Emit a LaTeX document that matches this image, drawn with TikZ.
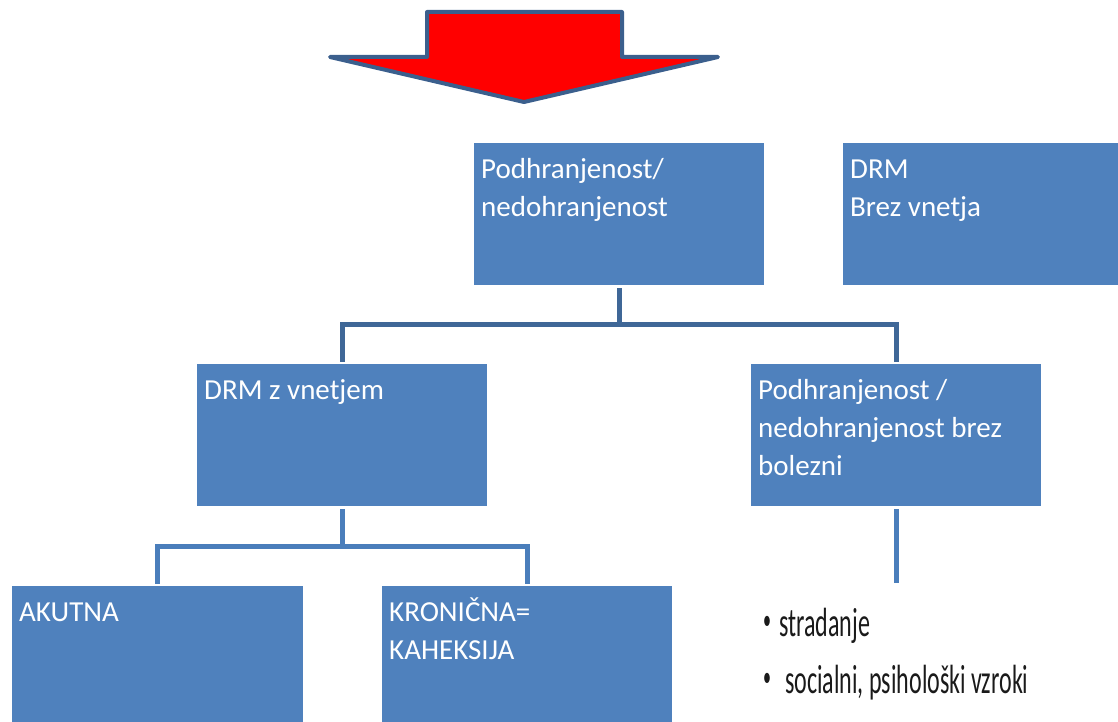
\documentclass[tikz,border=0pt]{standalone}
\usepackage{fontspec}
\setmainfont{Carlito}
\definecolor{boxblue}{HTML}{4F81BD}
\definecolor{linkdark}{HTML}{3F6797}
\definecolor{linkblue}{HTML}{4A7EBB}
\definecolor{arrowedge}{HTML}{3B5F8D}
\definecolor{bulletgray}{HTML}{1A1A1A}
\begin{document}
\begin{tikzpicture}[x=1pt,y=-1pt,
  boxnode/.style={fill=boxblue, draw=none, inner sep=0pt, outer sep=0pt, anchor=north west, minimum height=142pt},
  boxtext/.style={text=white, font=\fontsize{29}{38}\selectfont, align=left, inner sep=0pt, anchor=base west},
  toplink/.style={draw=linkdark, line width=5pt, shorten <=3pt, shorten >=2pt},
  lowlink/.style={draw=linkblue, line width=5pt, shorten <=3pt, shorten >=2pt},
  bullettext/.style={text=bulletgray, font=\fontsize{24}{30}\selectfont, inner sep=0pt, anchor=base west},
  bulletdot/.style={text=bulletgray, font=\fontsize{16}{20}\selectfont, inner sep=0pt, anchor=center}]
\useasboundingbox (0,0) rectangle (1118,722);
% red arrow
\draw[arrowedge, line width=4pt, fill=red, line join=round]
  (427,12) -- (622,12) -- (622,57) -- (718,57) -- (524,102) -- (330,57) -- (427,57) -- cycle;
% boxes
\node[boxnode, minimum width=290pt] (b1) at (474,143) {};
\node[boxnode, minimum width=275pt] (b2) at (843,143) {};
\node[boxnode, minimum width=290pt] (b3) at (197,364) {};
\node[boxnode, minimum width=290pt] (b4) at (751,364) {};
\node[boxnode, minimum width=291pt, minimum height=140pt] (b5) at (12,586) {};
\node[boxnode, minimum width=290pt, minimum height=140pt] (b6) at (382,586) {};
% box texts (base anchor = baseline of last line)
\node[boxtext] (t1) at ([xshift=7pt,yshift=-73pt]b1.north west) {Podhranjenost/\\nedohranjenost};
\node[boxtext] (t2) at ([xshift=7pt,yshift=-73pt]b2.north west) {DRM\\Brez vnetja};
\node[boxtext] (t3) at ([xshift=7pt,yshift=-35pt]b3.north west) {DRM z vnetjem};
\node[boxtext] (t4) at ([xshift=7pt,yshift=-111pt]b4.north west) {Podhranjenost /\\nedohranjenost brez\\bolezni};
\node[boxtext] (t5) at ([xshift=7pt,yshift=-35pt]b5.north west) {AKUTNA};
\node[boxtext] (t6) at ([xshift=7pt,yshift=-73pt]b6.north west) {KRONIČNA=\\KAHEKSIJA};
% connectors
\coordinate (j1) at (0,324);
\coordinate (j2) at (0,546);
\coordinate (e4) at (896,583);
\draw[toplink] (b1.south) -- (b1.south |- j1) -| (b3.north);
\draw[toplink] (b1.south |- j1) -| (b4.north);
\draw[lowlink] (b3.south) -- (b3.south |- j2) -| (b5.north);
\draw[lowlink] (b3.south |- j2) -| (b6.north);
\draw[lowlink, shorten >=0pt] (b4.south) -- (e4);
% bullet list
\node[bulletdot] (d1) at (767,623) {\scalebox{1}[1.8]{•}};
\node[bullettext] (l1) at (779,636) {\scalebox{1}[1.7]{stradanje}};
\node[bulletdot] (d2) at (767,680) {\scalebox{1}[1.8]{•}};
\node[bullettext] (l2) at (785,693) {\scalebox{1}[1.7]{socialni, psihološki vzroki}};
\end{tikzpicture}
\end{document}
